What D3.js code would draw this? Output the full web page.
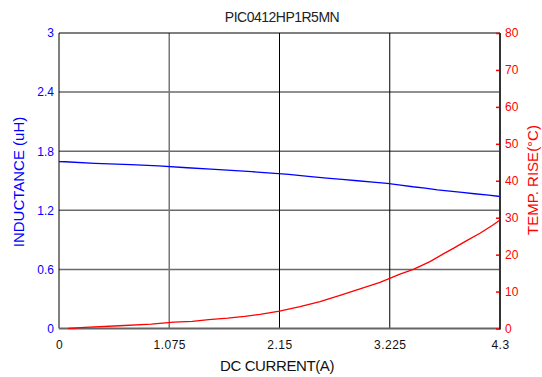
<!DOCTYPE html>
<html>
<head>
<meta charset="utf-8">
<script src="https://cdn.jsdelivr.net/npm/d3@7"></script>
<style>
    body { margin: 0; background: #fff; }
    text { font-family: "Liberation Sans", Arial, sans-serif; }
</style>
</head>
<body>
<div id="canvas"></div>
<script>
"use strict"

let svgWidth = 542
let svgHeight = 377

let topMargin = 33;
let rightMargin = 42;
let bottomMargin = 48.5;
let leftMargin = 59;

// inductance curve, current (A) and inductance (uH)
let currentInd = [0, 0.06, 0.35, 0.70, 0.97, 1.25, 1.48, 1.68, 1.88, 2.07, 2.24, 2.43, 2.61, 2.76, 2.91, 3.06, 3.20, 3.33, 3.45, 3.57, 3.69, 3.81, 3.93, 4.05, 4.19, 4.3]
let inductance = [1.695, 1.693, 1.676, 1.663, 1.65, 1.632, 1.619, 1.605, 1.592, 1.578, 1.564, 1.544, 1.527, 1.514, 1.50, 1.487, 1.473, 1.456, 1.439, 1.425, 1.408, 1.395, 1.381, 1.368, 1.354, 1.34]

// temperature rise curve, current (A) and temp rise (C)
let currentTemp = [0.09, 0.25, 0.59, 0.90, 1.12, 1.30, 1.46, 1.645, 1.81, 1.96, 2.15, 2.35, 2.545, 2.74, 2.935, 3.13, 3.325, 3.455, 3.617, 3.747, 3.845, 3.975, 4.105, 4.235, 4.3]
let tempRise = [0, 0.3, 0.75, 1.2, 1.7, 1.95, 2.4, 2.8, 3.3, 3.85, 4.7, 5.9, 7.3, 9.0, 10.7, 12.5, 14.7, 16.0, 18.1, 20.2, 21.7, 23.8, 25.8, 28.1, 29.4]

let xTicks = [0, 1.075, 2.15, 3.225, 4.3]
let leftTicks = [0, 0.6, 1.2, 1.8, 2.4, 3]
let rightTicks = [0, 10, 20, 30, 40, 50, 60, 70, 80]

let blue = "#0000ff"
let red = "#ff0000"

let svg = d3.select("#canvas")
    .append("svg")
    .attr("width", svgWidth)
    .attr("height", svgHeight)

let xScale = d3.scaleLinear()
    .domain([0, 4.3])
    .range([leftMargin, svgWidth - rightMargin])

let yLeft = d3.scaleLinear()
    .domain([0, 3])
    .range([svgHeight - bottomMargin, topMargin])

let yRight = d3.scaleLinear()
    .domain([0, 80])
    .range([svgHeight - bottomMargin, topMargin])

let x0 = xScale(0), x1 = xScale(4.3)
let yBottom = yLeft(0), yTop = yLeft(3)

/* grid lines */
svg.selectAll("line.hgrid")
    .data(leftTicks.slice(1, -1))
    .join("line")
    .classed("hgrid", true)
    .attr("x1", x0)
    .attr("x2", x1)
    .attr("y1", d => yLeft(d))
    .attr("y2", d => yLeft(d))
    .attr("stroke", "#6a6a6a")
    .attr("stroke-width", 1.5)

svg.selectAll("line.vgrid")
    .data(xTicks.slice(1, -1))
    .join("line")
    .classed("vgrid", true)
    .attr("x1", d => xScale(d))
    .attr("x2", d => xScale(d))
    .attr("y1", yTop)
    .attr("y2", yBottom)
    .attr("stroke", (d, i) => i == 0 ? "#777" : "#000")
    .attr("stroke-width", (d, i) => i == 0 ? 1.5 : 1)

/* frame */
svg.append("line")
    .attr("x1", x0).attr("x2", x1)
    .attr("y1", yTop).attr("y2", yTop)
    .attr("stroke", "#000")
svg.append("line")
    .attr("x1", x0).attr("x2", x0)
    .attr("y1", yTop).attr("y2", yBottom)
    .attr("stroke", "#000")
svg.append("line")
    .attr("x1", x0).attr("x2", x1)
    .attr("y1", yBottom).attr("y2", yBottom)
    .attr("stroke", "#666")
    .attr("stroke-width", 2)

/* curves */
let indLine = d3.line()
    .x((d, i) => xScale(currentInd[i]))
    .y(d => yLeft(d))

let tempLine = d3.line()
    .x((d, i) => xScale(currentTemp[i]))
    .y(d => yRight(d))

svg.append("path")
    .datum(inductance)
    .attr("d", indLine)
    .attr("fill", "none")
    .attr("stroke", blue)
    .attr("stroke-width", 1.3)

svg.append("path")
    .datum(tempRise)
    .attr("d", tempLine)
    .attr("fill", "none")
    .attr("stroke", red)
    .attr("stroke-width", 1.3)

/* left axis */
let leftAxis = svg.append("g")
    .attr("transform", `translate(${x0},0)`)
    .call(d3.axisLeft(yLeft).tickValues(leftTicks).tickSize(0).tickPadding(5).tickFormat(d => String(d)))
leftAxis.select(".domain").remove()
leftAxis.selectAll("text")
    .attr("fill", blue)
    .style("font-size", "12px")

/* right axis */
let rightAxis = svg.append("g")
    .attr("transform", `translate(${x1},0)`)
    .call(d3.axisRight(yRight).tickValues(rightTicks).tickSize(-4).tickPadding(5))
rightAxis.select(".domain").remove()
rightAxis.selectAll("line")
    .attr("stroke", red)
    .attr("stroke-width", 1.5)
rightAxis.selectAll("text")
    .attr("fill", red)
    .style("font-size", "12px")

svg.append("line")
    .attr("x1", x1).attr("x2", x1)
    .attr("y1", yTop).attr("y2", yBottom + 1)
    .attr("stroke", "#333")
    .attr("stroke-width", 2)

/* bottom axis */
let bottomAxis = svg.append("g")
    .attr("transform", `translate(0,${yBottom})`)
    .call(d3.axisBottom(xScale).tickValues(xTicks).tickSize(0).tickPadding(12).tickFormat(d => String(d)))
bottomAxis.select(".domain").remove()
bottomAxis.selectAll("text")
    .attr("fill", "#111")
    .style("font-size", "12px")
    .style("letter-spacing", "0.5px")

/* labels */
svg.append("text")
    .attr("x", 282)
    .attr("y", 22)
    .attr("text-anchor", "middle")
    .attr("fill", "#222")
    .style("font-size", "14px")
    .style("letter-spacing", "-0.5px")
    .text("PIC0412HP1R5MN")

svg.append("text")
    .attr("x", 277)
    .attr("y", 371)
    .attr("text-anchor", "middle")
    .attr("fill", "#111")
    .style("font-size", "15px")
    .style("letter-spacing", "-0.4px")
    .text("DC CURRENT(A)")

svg.append("text")
    .attr("transform", "translate(24,182) rotate(-90)")
    .attr("text-anchor", "middle")
    .attr("fill", blue)
    .style("font-size", "15px")
    .text("INDUCTANCE (uH)")

svg.append("text")
    .attr("transform", "translate(538,180) rotate(-90)")
    .attr("text-anchor", "middle")
    .attr("fill", red)
    .style("font-size", "15px")
    .text("TEMP. RISE(°C)")
</script>
</body>
</html>
